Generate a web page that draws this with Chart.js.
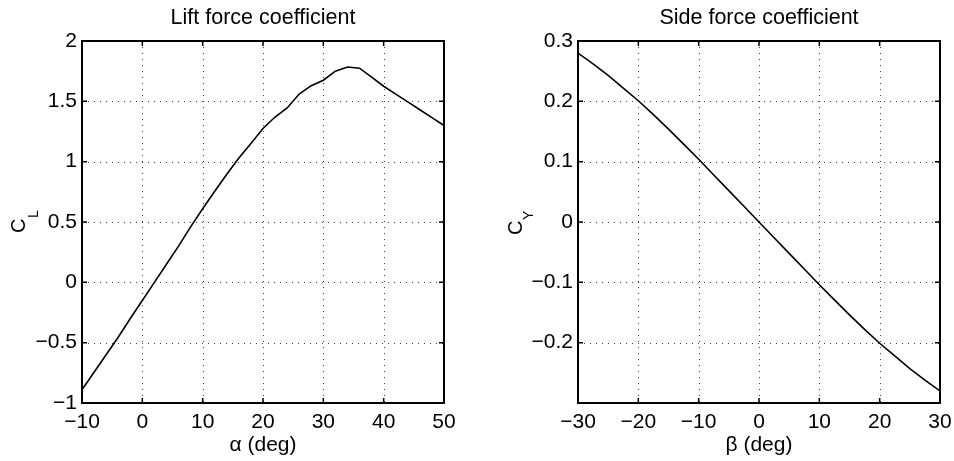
<!DOCTYPE html>
<html>
<head>
<meta charset="utf-8">
<script src="https://cdn.jsdelivr.net/npm/chart.js@4"></script>
<style>
  html, body { margin: 0; padding: 0; background: #fff; }
  #wrap { position: relative; width: 954px; height: 461px; }
  canvas { position: absolute; top: 0; }
</style>
</head>
<body>
<div id="wrap">
  <canvas id="lift" width="477" height="461" style="left:0"></canvas>
  <canvas id="side" width="477" height="461" style="left:477px"></canvas>
</div>
<script>
// lift coefficient vs angle of attack
const alphaDeg = [-10, -8, -6, -4, -2, 0, 2, 4, 6, 8, 10, 12, 14, 16, 18, 20,
  22, 24, 26, 28, 30, 32, 34, 36, 38, 40, 42, 44, 46, 48, 50]
const liftCoef = [-0.89, -0.745, -0.60, -0.455, -0.30, -0.15, 0.00, 0.15, 0.30, 0.46, 0.61,
  0.755, 0.895, 1.03, 1.15, 1.275, 1.37, 1.445, 1.56, 1.63, 1.675, 1.75, 1.785, 1.775,
  1.70, 1.625, 1.56, 1.495, 1.43, 1.365, 1.30]

// side force coefficient vs sideslip angle
const betaDeg = [-30, -27.5, -25, -22.5, -20, -17.5, -15, -12.5, -10, -7.5, -5, -2.5, 0,
  2.5, 5, 7.5, 10, 12.5, 15, 17.5, 20, 22.5, 25, 27.5, 30]
const sideCoef = [0.280, 0.262, 0.243, 0.222, 0.201, 0.178, 0.154, 0.129, 0.104, 0.078, 0.052, 0.026, 0,
  -0.026, -0.052, -0.078, -0.104, -0.129, -0.154, -0.178, -0.201, -0.222, -0.243, -0.262, -0.280]

const alphaTicks = { min: -10, max: 50, step: 10 }
const liftTicks = { min: -1, max: 2, step: 0.5 }
const betaTicks = { min: -30, max: 30, step: 10 }
const sideTicks = { min: -0.3, max: 0.3, step: 0.1, hide: [-0.3] }

const FONT = '"Liberation Sans", Arial, Helvetica, sans-serif'
Chart.defaults.font.family = FONT
Chart.defaults.color = '#000'

const fmt = v => {
  const r = Math.round(v * 100) / 100
  return String(r).replace('-', '\u2212')
}

// matlab style box, dotted grid, inward ticks and text
const framePlugin = {
  id: 'frame',
  beforeDatasetsDraw (chart, args, opts) {
    const { ctx, chartArea: a, scales: { x, y } } = chart
    ctx.save()
    ctx.strokeStyle = 'rgba(0,0,0,0.75)'
    ctx.lineWidth = 1
    ctx.setLineDash([1, 5])
    x.ticks.forEach(t => {
      const px = Math.round(x.getPixelForValue(t.value)) + 0.5
      ctx.beginPath(); ctx.moveTo(px, a.top); ctx.lineTo(px, a.bottom); ctx.stroke()
    })
    y.ticks.forEach(t => {
      const py = Math.round(y.getPixelForValue(t.value)) + 0.5
      ctx.beginPath(); ctx.moveTo(a.left, py); ctx.lineTo(a.right, py); ctx.stroke()
    })
    ctx.restore()
  },
  afterDatasetsDraw (chart, args, opts) {
    const { ctx, chartArea: a, scales: { x, y } } = chart
    ctx.save()
    ctx.strokeStyle = '#000'
    ctx.lineWidth = 1.5
    const tl = 5
    x.ticks.forEach(t => {
      const px = x.getPixelForValue(t.value)
      ctx.beginPath()
      ctx.moveTo(px, a.bottom); ctx.lineTo(px, a.bottom - tl)
      ctx.moveTo(px, a.top); ctx.lineTo(px, a.top + tl)
      ctx.stroke()
    })
    y.ticks.forEach(t => {
      const py = y.getPixelForValue(t.value)
      ctx.beginPath()
      ctx.moveTo(a.left, py); ctx.lineTo(a.left + tl, py)
      ctx.moveTo(a.right, py); ctx.lineTo(a.right - tl, py)
      ctx.stroke()
    })
    ctx.lineWidth = 2
    ctx.strokeRect(a.left, a.top, a.right - a.left, a.bottom - a.top)

    const cx = (a.left + a.right) / 2
    ctx.fillStyle = '#000'
    ctx.textAlign = 'center'
    ctx.textBaseline = 'alphabetic'
    ctx.font = '21.5px ' + FONT
    ctx.fillText(opts.title, cx, 24)
    ctx.font = '21px ' + FONT
    ctx.fillText(opts.xLabel, cx, 451)

    // y label with subscript, rotated
    ctx.translate(opts.yLabelX, opts.yLabelY)
    ctx.rotate(-Math.PI / 2)
    ctx.textAlign = 'left'
    ctx.font = '20px ' + FONT
    ctx.fillText('C', 0, 0)
    const w = ctx.measureText('C').width
    ctx.font = '14px ' + FONT
    ctx.fillText(opts.ySub, w + 0.5, opts.subDrop)
    ctx.restore()
  }
}

function makeChart (id, xs, ys, xt, yt, padRight, text) {
  const hideX = xt.hide || []
  const hideY = yt.hide || []
  return new Chart(document.getElementById(id), {
    type: 'line',
    data: {
      datasets: [{
        data: xs.map((v, i) => ({ x: v, y: ys[i] })),
        borderColor: '#000',
        borderWidth: 1.6,
        pointRadius: 0,
        tension: 0,
        fill: false
      }]
    },
    options: {
      responsive: false,
      animation: false,
      devicePixelRatio: 1,
      layout: { padding: { left: 0, top: 41, right: padRight, bottom: 0 } },
      plugins: { legend: { display: false }, tooltip: { enabled: false }, frame: text },
      scales: {
        x: {
          type: 'linear',
          min: xt.min,
          max: xt.max,
          grid: { display: false, drawTicks: false },
          border: { display: false },
          ticks: {
            stepSize: xt.step,
            autoSkip: false,
            maxRotation: 0,
            padding: 7,
            color: '#000',
            font: { size: 21 },
            callback: v => hideX.some(h => Math.abs(h - v) < 1e-9) ? '' : fmt(v)
          },
          afterFit: s => { s.height = 58; s.paddingLeft = 0; s.paddingRight = 0 }
        },
        y: {
          type: 'linear',
          min: yt.min,
          max: yt.max,
          grid: { display: false, drawTicks: false },
          border: { display: false },
          ticks: {
            stepSize: yt.step,
            autoSkip: false,
            padding: 5,
            color: '#000',
            font: { size: 21 },
            callback: v => hideY.some(h => Math.abs(h - v) < 1e-9) ? '' : fmt(v)
          },
          afterFit: s => { s.width = text.yAxisWidth; s.paddingTop = 0; s.paddingBottom = 0 }
        }
      }
    },
    plugins: [framePlugin]
  })
}

makeChart('lift', alphaDeg, liftCoef, alphaTicks, liftTicks, 33, {
  title: 'Lift force coefficient',
  xLabel: '\u03b1 (deg)',
  ySub: 'L',
  yAxisWidth: 82,
  yLabelX: 25,
  yLabelY: 233,
  subDrop: 13
})

makeChart('side', betaDeg, sideCoef, betaTicks, sideTicks, 14, {
  title: 'Side force coefficient',
  xLabel: '\u03b2 (deg)',
  ySub: 'Y',
  yAxisWidth: 101,
  yLabelX: 45,
  yLabelY: 235,
  subDrop: 11
})
</script>
</body>
</html>
